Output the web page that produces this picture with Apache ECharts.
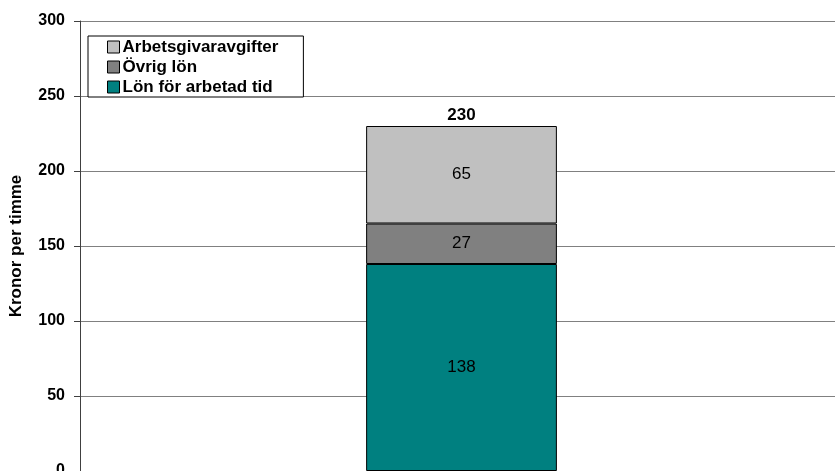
<!DOCTYPE html>
<html>
<head>
<meta charset="utf-8">
<script src="https://cdn.jsdelivr.net/npm/echarts@6/dist/echarts.min.js"></script>
<style>
  html, body { margin: 0; padding: 0; background: #fff; }
  #chart { width: 835px; height: 471px; }
</style>
</head>
<body>
<div id="chart"></div>
<script>
// data
const categories = ['']
const seriesNames = ['Lön för arbetad tid', 'Övrig lön', 'Arbetsgivaravgifter']
const lonArbetadTid = [138]
const ovrigLon = [27]
const arbetsgivaravgifter = [65]
const totals = categories.map((c, i) => lonArbetadTid[i] + ovrigLon[i] + arbetsgivaravgifter[i])

const colors = ['#008080', '#808080', '#C0C0C0']
const font = 'Arial, "Liberation Sans", sans-serif'

const chart = echarts.init(document.getElementById('chart'))

const makeSeries = (name, data, color) => ({
  name,
  type: 'bar',
  stack: 'total',
  data,
  barWidth: '25%',
  itemStyle: { color, borderColor: '#000', borderWidth: 1 },
  label: {
    show: true,
    position: 'inside',
    color: '#000',
    fontFamily: font,
    fontSize: 17
  }
})

const option = {
  animation: false,
  grid: { left: 80, right: -8, top: 21, bottom: 0, outerBoundsMode: 'none' },
  legend: {
    data: ['Arbetsgivaravgifter', 'Övrig lön', 'Lön för arbetad tid'],
    orient: 'vertical',
    left: 88,
    top: 36,
    padding: [1, 25, 0, 19],
    itemGap: 0,
    itemWidth: 12,
    itemHeight: 12,
    borderColor: '#000',
    borderWidth: 1,
    backgroundColor: '#fff',
    icon: 'rect',
    itemStyle: { borderColor: '#000', borderWidth: 1 },
    textStyle: { fontFamily: font, fontWeight: 'bold', fontSize: 17, lineHeight: 20, color: '#000', padding: [0, 0, 0, -2] }
  },
  xAxis: {
    type: 'category',
    data: categories,
    axisLine: { show: false },
    axisTick: { show: false },
    axisLabel: { show: false }
  },
  yAxis: {
    type: 'value',
    min: 0,
    max: 300,
    interval: 50,
    name: 'Kronor per timme',
    nameLocation: 'middle',
    nameGap: 55,
    nameRotate: 90,
    nameTextStyle: { fontFamily: font, fontWeight: 'bold', fontSize: 17, color: '#000' },
    axisLine: { show: true, lineStyle: { color: '#404040', width: 1 } },
    axisTick: { show: true, length: 6, lineStyle: { color: '#404040' } },
    axisLabel: { fontFamily: font, fontWeight: 'bold', fontSize: 16, color: '#000', margin: 15 },
    splitLine: { lineStyle: { color: '#808080', width: 1 } }
  },
  series: [
    makeSeries(seriesNames[0], lonArbetadTid, colors[0]),
    makeSeries(seriesNames[1], ovrigLon, colors[1]),
    makeSeries(seriesNames[2], arbetsgivaravgifter, colors[2]),
    {
      name: 'total',
      type: 'bar',
      stack: 'total',
      data: totals.map(() => 0),
      barWidth: '25%',
      itemStyle: { color: 'transparent', borderWidth: 0 },
      label: {
        show: true,
        position: 'top',
        distance: 2,
        formatter: p => totals[p.dataIndex],
        color: '#000',
        fontFamily: font,
        fontWeight: 'bold',
        fontSize: 17
      }
    }
  ]
}

chart.setOption(option)
</script>
</body>
</html>
